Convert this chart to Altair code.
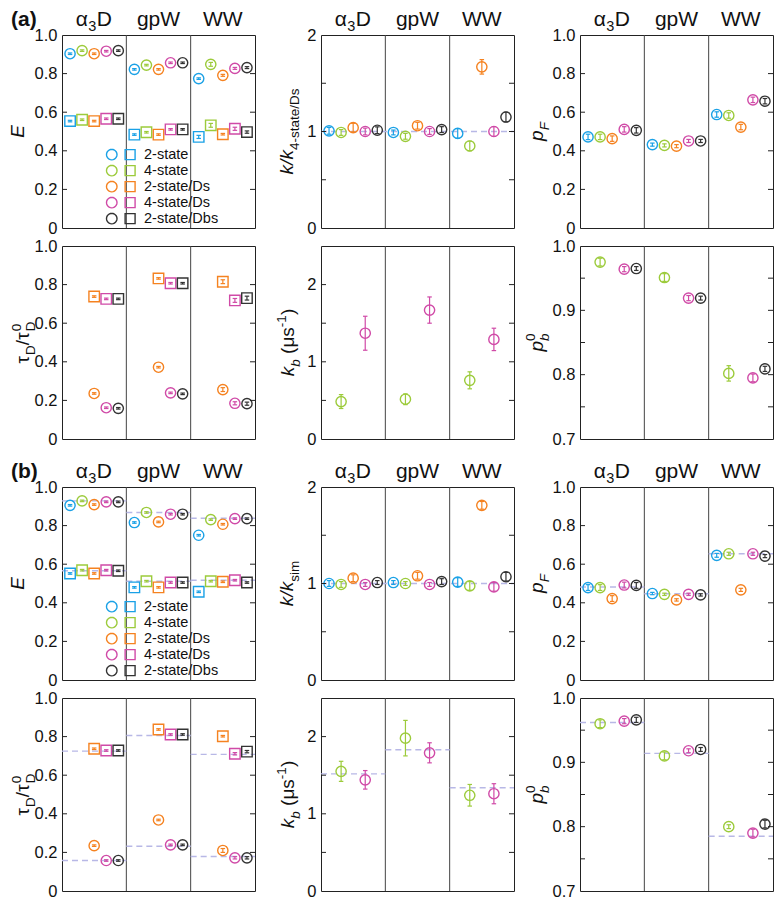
import math
import altair as alt
import pandas as pd

FONT = "Liberation Sans"
GROUPS = ["α3D", "gpW", "WW"]
MODELS = ["2-state", "4-state", "2-state/Ds", "4-state/Ds", "2-state/Dbs"]
COLORS = ["#1aa1e6", "#9ccb3b", "#f58220", "#d04aa7", "#333333"]
DASH_COLOR = "#b8b8e6"

# ---------------- (a) ----------------
A_E_circ = [[0.903, 0.919, 0.903, 0.916, 0.919], [0.822, 0.844, 0.822, 0.856, 0.856], [0.774, 0.848, 0.791, 0.827, 0.831]]
A_E_circ_err = [[0.004] * 5, [0.004] * 5, [0.004, 0.010, 0.005, 0.005, 0.005]]
A_E_sq = [[0.554, 0.561, 0.554, 0.566, 0.566], [0.484, 0.496, 0.484, 0.511, 0.511], [0.472, 0.532, 0.486, 0.514, 0.497]]
A_E_sq_err = [[0.004] * 5, [0.004] * 5, [0.008, 0.010, 0.004, 0.008, 0.006]]

A_T_sq = [[0.738, 0.726, 0.726], [0.832, 0.807, 0.807], [0.815, 0.718, 0.730]]
A_T_sq_err = [[0.004] * 3, [0.004] * 3, [0.010, 0.010, 0.010]]
A_T_circ = [[0.236, 0.162, 0.159], [0.372, 0.239, 0.234], [0.256, 0.185, 0.183]]
A_T_circ_err = [[0.004] * 3, [0.004] * 3, [0.010, 0.008, 0.008]]

A_K = [[1.007, 0.99, 1.04, 1.0, 1.013], [0.99, 0.95, 1.06, 1.0, 1.02], [0.98, 0.85, 1.67, 1.0, 1.15]]
A_K_err = [[0.035, 0.03, 0.045, 0.035, 0.035], [0.025, 0.03, 0.035, 0.03, 0.03], [0.05, 0.05, 0.075, 0.05, 0.05]]

A_KB = [[0.485, 1.37], [0.515, 1.67], [0.76, 1.29]]
A_KB_err = [[0.09, 0.22], [0.07, 0.17], [0.11, 0.145]]

A_PF = [[0.472, 0.472, 0.463, 0.511, 0.506], [0.432, 0.428, 0.424, 0.451, 0.451], [0.588, 0.583, 0.523, 0.664, 0.657]]
A_PF_err = [[0.014] * 5, [0.008] * 5, [0.014] * 5]

A_PB = [[0.975, 0.964, 0.965], [0.951, 0.919, 0.919], [0.802, 0.795, 0.809]]
A_PB_err = [[0.006, 0.004, 0.003], [0.006, 0.004, 0.003], [0.012, 0.006, 0.004]]

# ---------------- (b) ----------------
B_E_circ = [[0.905, 0.928, 0.909, 0.923, 0.923], [0.816, 0.868, 0.819, 0.859, 0.859], [0.750, 0.831, 0.807, 0.836, 0.836]]
B_E_sq = [[0.552, 0.569, 0.552, 0.569, 0.566], [0.480, 0.512, 0.480, 0.505, 0.505], [0.457, 0.512, 0.509, 0.517, 0.505]]
B_E_err = [[0.004] * 5, [0.004] * 5, [0.004] * 5]
B_E_ref_circ = [0.928, 0.868, 0.838]
B_E_ref_sq = [0.566, 0.512, 0.517]

B_T_sq = [[0.737, 0.728, 0.728], [0.837, 0.811, 0.811], [0.802, 0.711, 0.722]]
B_T_circ = [[0.235, 0.158, 0.158], [0.368, 0.239, 0.239], [0.210, 0.172, 0.172]]
B_T_sq_err = [[0.004] * 3, [0.004] * 3, [0.004, 0.006, 0.006]]
B_T_circ_err = [[0.004] * 3, [0.004] * 3, [0.010, 0.006, 0.006]]
B_T_ref_sq = [0.725, 0.806, 0.708]
B_T_ref_circ = [0.158, 0.232, 0.179]

B_K = [[1.0, 0.99, 1.055, 0.99, 1.01], [1.01, 1.0, 1.08, 0.99, 1.02], [1.015, 0.975, 1.81, 0.965, 1.07]]
B_K_err = [[0.03, 0.03, 0.035, 0.02, 0.02], [0.02, 0.02, 0.035, 0.02, 0.03], [0.045, 0.045, 0.04, 0.045, 0.045]]

B_KB = [[1.55, 1.44], [1.98, 1.79], [1.24, 1.26]]
B_KB_err = [[0.13, 0.12], [0.23, 0.13], [0.14, 0.13]]
B_KB_ref = [1.517, 1.83, 1.337]

B_PF = [[0.479, 0.479, 0.422, 0.492, 0.490], [0.448, 0.444, 0.415, 0.444, 0.441], [0.646, 0.654, 0.467, 0.654, 0.642]]
B_PF_err = [[0.015] * 5, [0.006] * 5, [0.010, 0.008, 0.008, 0.008, 0.008]]
B_PF_ref = [0.482, 0.447, 0.654]

B_PB = [[0.960, 0.964, 0.966], [0.910, 0.918, 0.920], [0.800, 0.790, 0.804]]
B_PB_err = [[0.006, 0.004, 0.004], [0.006, 0.003, 0.003], [0.003, 0.006, 0.006]]
B_PB_ref = [0.962, 0.914, 0.785]

PW, PH = 193, 193
M, S = 19, 13.5

CW = {'0': .556, '1': .556, '2': .556, '3': .556, '4': .556, '.': .278, '/': .278, '-': .333, ' ': .278,
      '(': .333, ')': .333, 'k': .5, 'b': .556, 'p': .556, 's': .5, 't': .278, 'a': .556, 'e': .556,
      'i': .222, 'm': .833, 'D': .722, 'F': .611, 'E': .667, 'τ': .45, 'μ': .577, 'α': .6}


def wid(t, size):
    return sum(CW.get(c, .556) for c in t) * size


# pieces: (text, font size, italic, baseline shift, advances, extra gap before)
T_E = [("E", M, True, 0, True, 0)]
T_TAU = [("τ", M, False, 0, True, 0), ("D", S, False, 5.5, True, 0), ("/τ", M, False, 0, True, 0),
         ("0", S, False, -8.5, False, 0), ("D", S, False, 5.5, True, 0)]
T_K4 = [("k/k", M, True, 0, True, 0), ("4-state/Ds", S, False, 5.5, True, 0)]
T_KB = [("k", M, True, 0, True, 0), ("b", S, True, 5.5, True, 0), ("(μs", M, False, 0, True, 0.278 * M),
        ("-1", S, False, -8, True, 0), (")", M, False, 0, True, 0)]
T_PF = [("p", M, True, 0, True, 0), ("F", S, True, 5.5, True, 0)]
T_PB = [("p", M, True, 0, True, 0), ("0", S, False, -8.5, False, 0), ("b", S, True, 5.5, True, 0)]
T_KS = [("k/k", M, True, 0, True, 0), ("sim", S, False, 5.5, True, 0)]

# legend glyph: a circle (drawn as a 24-gon) next to a square
_poly = " ".join(f"{'M' if i == 0 else 'L'}{math.cos(2 * math.pi * i / 24):.3f},{math.sin(2 * math.pi * i / 24):.3f}"
                 for i in range(24))
PATH = _poly + " Z M2.55,-0.95 L4.45,-0.95 L4.45,0.95 L2.55,0.95 Z"


def title_layers(pieces, cx):
    total = sum(wid(t, s) + g for t, s, it, sh, adv, g in pieces if adv)
    pos = -total / 2
    out = []
    for t, s, it, sh, adv, g in pieces:
        pos += g
        out.append(alt.Chart(pd.DataFrame({"t": [t]})).mark_text(
            angle=270, align="left", baseline="alphabetic", font=FONT, fontSize=s,
            fontStyle="italic" if it else "normal", color="#111", dx=pos, dy=sh
        ).encode(text="t:N", x=alt.value(cx + 6), y=alt.value(PH / 2)))
        if adv:
            pos += wid(t, s)
    return out


def make_panel(spec, top=False, label=None, legend=False):
    xs = alt.Scale(domain=[0, 3], nice=False, zero=False)
    ys = alt.Scale(domain=spec["domain"], nice=False, zero=False)
    yax = alt.Axis(values=spec["labels"], labelExpr=spec["fmt"], ticks=False, domain=False, grid=False,
                   title=None, labelFont=FONT, labelFontSize=16.5, labelColor="#111", labelPadding=5)

    def X(f):
        return alt.X(f, type="quantitative", scale=xs, axis=None)

    def Y(f):
        return alt.Y(f, type="quantitative", scale=ys, axis=yax)

    rows = []
    for shape, vals, errs in spec["series"]:
        for g in range(3):
            for j, m in enumerate(spec["models"]):
                v = vals[g][j]
                e = errs[g][j]
                rows.append({"x": g + 0.125 + 0.1875 * m, "y": v, "lo": v - e, "hi": v + e,
                             "model": MODELS[m], "col": COLORS[m], "shape": shape})
    df = pd.DataFrame(rows)
    colnone = alt.Color("col:N", scale=None)

    layers = [alt.Chart(pd.DataFrame({"x": [1, 2]})).mark_rule(color="#444", strokeWidth=1).encode(x=X("x"))]

    ref_rows = []
    for r in spec.get("refs", []):
        if isinstance(r, list):
            for g in range(3):
                ref_rows.append({"x": g, "x2": g + 1, "y": r[g]})
        else:
            ref_rows.append({"x": 0, "x2": 3, "y": r})
    if ref_rows:
        layers.append(alt.Chart(pd.DataFrame(ref_rows)).mark_rule(
            color=DASH_COLOR, strokeWidth=1.4, strokeDash=[6, 4]).encode(x=X("x"), x2=alt.X2("x2"), y=Y("y")))

    layers.append(alt.Chart(df).mark_rule(strokeWidth=1.2).encode(x=X("x"), y=Y("lo"), y2=alt.Y2("hi"), color=colnone))
    for f in ["lo", "hi"]:
        layers.append(alt.Chart(df).mark_tick(orient="horizontal", size=4.5, thickness=1.2, opacity=1).encode(
            x=X("x"), y=Y(f), color=colnone))

    for shape in ["circle", "square"]:
        sub = df[df["shape"] == shape]
        if len(sub) == 0:
            continue
        if legend and shape == "circle":
            col = alt.Color("model:N", scale=alt.Scale(domain=MODELS, range=COLORS),
                            legend=alt.Legend(orient="none", legendX=42.5, legendY=113, title=None,
                                              symbolType=PATH, symbolSize=110, symbolStrokeWidth=1.4,
                                              labelFont=FONT, labelFontSize=14.5, labelColor="#111",
                                              labelOffset=25, rowPadding=0, clipHeight=13.2,
                                              padding=0, symbolOffset=0))
        else:
            col = colnone
        layers.append(alt.Chart(sub).mark_point(shape=shape, filled=False, size=105 if shape == "circle" else 110,
                                                strokeWidth=1.4, opacity=1).encode(x=X("x"), y=Y("y"), color=col))

    tdf = pd.DataFrame({"y": spec["ticks"]})
    layers.append(alt.Chart(tdf).mark_rule(color="#222", strokeWidth=1).encode(
        y=Y("y"), x=alt.value(0), x2=alt.value(5)))
    layers.append(alt.Chart(tdf).mark_rule(color="#222", strokeWidth=1).encode(
        y=Y("y"), x=alt.value(PW - 5), x2=alt.value(PW)))

    layers += title_layers(spec["title"], spec["tx"])

    if top:
        gdf = pd.DataFrame({"x": [1.5, 2.5], "t": ["gpW", "WW"]})
        layers.append(alt.Chart(gdf).mark_text(font=FONT, fontSize=21, baseline="alphabetic", color="#111").encode(
            x=X("x"), y=alt.value(-9), text="t:N"))
        adf = pd.DataFrame({"x": [0.5]})
        for t, s, dx, dy in [("α", 21, -18.5, 0), ("3", 14.5, -6.0, 4.5), ("D", 21, 2.5, 0)]:
            layers.append(alt.Chart(adf.assign(t=t)).mark_text(
                font=FONT, fontSize=s, align="left", baseline="alphabetic", dx=dx, dy=dy, color="#111").encode(
                x=X("x"), y=alt.value(-9), text="t:N"))
    if label:
        layers.append(alt.Chart(pd.DataFrame({"t": [label]})).mark_text(
            font=FONT, fontSize=21, fontWeight="bold", align="left", baseline="alphabetic", color="#111").encode(
            x=alt.value(-51), y=alt.value(-9), text="t:N"))

    return alt.layer(*layers).properties(width=PW, height=PH)


F1 = "datum.value == 0 ? '0' : format(datum.value, '.1f')"
F0 = "format(datum.value, '.0f')"
E_LAB = [0, 0.2, 0.4, 0.6, 0.8, 1.0]
E_TIC = [0.2, 0.4, 0.6, 0.8]

specs_a = [
    dict(series=[("circle", A_E_circ, A_E_circ_err), ("square", A_E_sq, A_E_sq_err)], models=[0, 1, 2, 3, 4],
         domain=[0, 1], labels=E_LAB, fmt=F1, ticks=E_TIC, title=T_E, tx=-44),
    dict(series=[("circle", A_K, A_K_err)], models=[0, 1, 2, 3, 4], refs=[1.0],
         domain=[0, 2], labels=[0, 1, 2], fmt=F0, ticks=[0.5, 1, 1.5], title=T_K4, tx=-34),
    dict(series=[("circle", A_PF, A_PF_err)], models=[0, 1, 2, 3, 4],
         domain=[0, 1], labels=E_LAB, fmt=F1, ticks=E_TIC, title=T_PF, tx=-43),
    dict(series=[("square", A_T_sq, A_T_sq_err), ("circle", A_T_circ, A_T_circ_err)], models=[2, 3, 4],
         domain=[0, 1], labels=E_LAB, fmt=F1, ticks=E_TIC, title=T_TAU, tx=-39),
    dict(series=[("circle", A_KB, A_KB_err)], models=[1, 3],
         domain=[0, 2.5], labels=[0, 1, 2], fmt=F0, ticks=[0.5, 1, 1.5, 2], title=T_KB, tx=-33),
    dict(series=[("circle", A_PB, A_PB_err)], models=[1, 3, 4],
         domain=[0.7, 1.0], labels=[0.7, 0.8, 0.9, 1.0], fmt=F1, ticks=[0.75, 0.8, 0.85, 0.9, 0.95],
         title=T_PB, tx=-43),
]
specs_b = [
    dict(series=[("circle", B_E_circ, B_E_err), ("square", B_E_sq, B_E_err)], models=[0, 1, 2, 3, 4],
         refs=[B_E_ref_circ, B_E_ref_sq],
         domain=[0, 1], labels=E_LAB, fmt=F1, ticks=E_TIC, title=T_E, tx=-44),
    dict(series=[("circle", B_K, B_K_err)], models=[0, 1, 2, 3, 4], refs=[1.0],
         domain=[0, 2], labels=[0, 1, 2], fmt=F0, ticks=[0.5, 1, 1.5], title=T_KS, tx=-34),
    dict(series=[("circle", B_PF, B_PF_err)], models=[0, 1, 2, 3, 4], refs=[B_PF_ref],
         domain=[0, 1], labels=E_LAB, fmt=F1, ticks=E_TIC, title=T_PF, tx=-43),
    dict(series=[("square", B_T_sq, B_T_sq_err), ("circle", B_T_circ, B_T_circ_err)], models=[2, 3, 4],
         refs=[B_T_ref_sq, B_T_ref_circ],
         domain=[0, 1], labels=E_LAB, fmt=F1, ticks=E_TIC, title=T_TAU, tx=-39),
    dict(series=[("circle", B_KB, B_KB_err)], models=[1, 3], refs=[B_KB_ref],
         domain=[0, 2.5], labels=[0, 1, 2], fmt=F0, ticks=[0.5, 1, 1.5, 2], title=T_KB, tx=-33),
    dict(series=[("circle", B_PB, B_PB_err)], models=[1, 3, 4], refs=[B_PB_ref],
         domain=[0.7, 1.0], labels=[0.7, 0.8, 0.9, 1.0], fmt=F1, ticks=[0.75, 0.8, 0.85, 0.9, 0.95],
         title=T_PB, tx=-43),
]


def res(c):
    return c.resolve_scale(color="independent", x="independent", y="independent").resolve_legend(color="independent")


def section(specs, label):
    p = [make_panel(s, top=(i < 3), label=(label if i == 0 else None), legend=(i == 0)) for i, s in enumerate(specs)]
    r1 = res(alt.hconcat(p[0], p[1], p[2], spacing=66, bounds="flush"))
    r2 = res(alt.hconcat(p[3], p[4], p[5], spacing=66, bounds="flush"))
    return res(alt.vconcat(r1, r2, spacing=0))


chart = res(alt.vconcat(section(specs_a, "(a)"), section(specs_b, "(b)"), spacing=12))
chart = chart.properties(padding=0).configure_view(stroke="#222", strokeWidth=1)

chart.save("out.html", embed_options={"renderer": "svg", "actions": False})
